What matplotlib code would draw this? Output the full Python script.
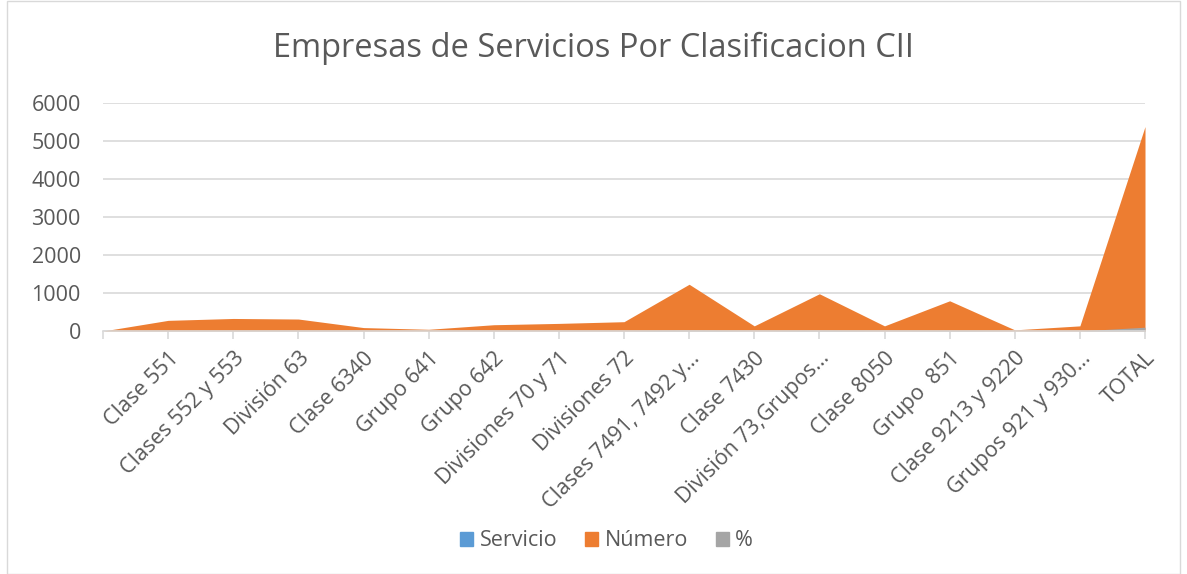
#!/usr/bin/env python3
"""
Area chart: Empresas de Servicios Por Clasificacion CII.
"""

import matplotlib.pyplot as plt
import numpy as np
from matplotlib.patches import Patch, Rectangle

plt.rcParams['font.family'] = ['Open Sans', 'DejaVu Sans']

# Categories (first point has no label in the source sheet)
categories = ['', 'Clase 551', 'Clases 552 y 553', 'División 63', 'Clase 6340',
              'Grupo 641', 'Grupo 642', 'Divisiones 70 y 71', 'Divisiones 72',
              'Clases 7491, 7492 y…', 'Clase 7430', 'División 73,Grupos…',
              'Clase 8050', 'Grupo  851', 'Clase 9213 y 9220',
              'Grupos 921 y 930…', 'TOTAL']

servicio = [0] * len(categories)
numero = [0, 280, 330, 315, 90, 45, 165, 200, 245, 1230, 135, 980, 135, 795,
          30, 135, 5380]
porcentaje = [0, 5.2, 6.1, 5.9, 1.7, 0.8, 3.1, 3.7, 4.6, 22.9, 2.5, 18.2,
              2.5, 14.8, 0.6, 2.5, 100]

BLUE = '#5B9BD5'
ORANGE = '#ED7D31'
GRAY = '#A5A5A5'
TEXT = '#595959'
GRID = '#D9D9D9'

W, H = 1187, 574
fig = plt.figure(figsize=(W / 100, H / 100), dpi=100)

# chart border
fig.patches.append(Rectangle((7 / W, 0.5 / H), (1180 - 7) / W, 1 - 1 / H,
                             transform=fig.transFigure, fill=False,
                             edgecolor=GRID, linewidth=1))

ax = fig.add_axes([103 / W, 1 - 331 / H, (1145 - 103) / W, (331 - 103) / H])

x = np.arange(len(categories))
ax.fill_between(x, 0, servicio, color=BLUE, linewidth=0)
ax.fill_between(x, 0, numero, color=ORANGE, linewidth=0)
ax.fill_between(x, 0, porcentaje, color=GRAY, linewidth=0)

ax.set_xlim(0, len(categories) - 1)
ax.set_ylim(0, 6000)
ax.set_yticks(np.arange(0, 6001, 1000))
ax.yaxis.grid(True, color=GRID, linewidth=1.2)
ax.set_axisbelow(True)

for side in ['left', 'right', 'top']:
    ax.spines[side].set_visible(False)
ax.spines['bottom'].set_color(GRID)
ax.spines['bottom'].set_linewidth(1.2)

ax.set_xticks(x)
ax.set_xticklabels(categories, rotation=45, ha='right', rotation_mode='anchor',
                   fontsize=15.5, color=TEXT)
ax.tick_params(axis='x', direction='out', length=6, width=1.2, color=GRID, pad=6)
ax.tick_params(axis='y', length=0, labelsize=15.5, labelcolor=TEXT, pad=16)

fig.text(0.5, 1 - 48 / H, 'Empresas de Servicios Por Clasificacion CII',
         ha='center', va='center', fontsize=23.5, color=TEXT)

handles = [Patch(color=BLUE, label='Servicio'),
           Patch(color=ORANGE, label='Número'),
           Patch(color=GRAY, label='%')]
fig.legend(handles=handles, loc='center', bbox_to_anchor=(0.511, 1 - 541 / H),
           ncol=3, frameon=False, fontsize=15.5, labelcolor=TEXT,
           handlelength=0.6, handleheight=0.6, handletextpad=0.3,
           columnspacing=1.3)

fig.savefig('out.png', dpi=100)
